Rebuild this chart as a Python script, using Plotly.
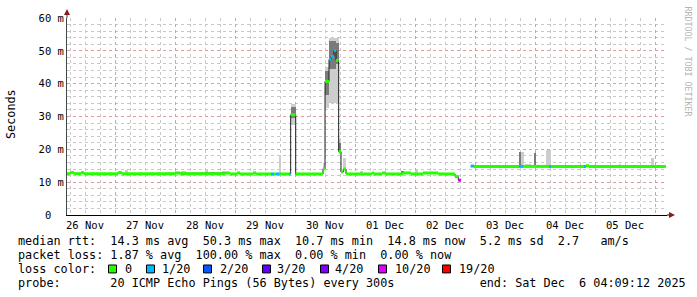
import plotly.graph_objects as go
import pandas as pd

# ---------------- data ----------------
seg_start = [
    "2025-11-26 04:48", "2025-11-26 06:00", "2025-11-26 07:36", "2025-11-26 10:24",
    "2025-11-26 11:36", "2025-11-27 01:12", "2025-11-27 02:48", "2025-11-28 00:00",
    "2025-11-28 02:00", "2025-11-28 20:00", "2025-11-28 22:00", "2025-11-29 00:48",
    "2025-11-29 02:00", "2025-11-29 07:12", "2025-11-29 08:24", "2025-11-29 14:24",
    "2025-11-29 15:36", "2025-11-29 16:24", "2025-11-29 17:36", "2025-11-29 21:36",
    "2025-11-29 22:16", "2025-11-30 00:17", "2025-11-30 11:12", "2025-11-30 12:00",
    "2025-11-30 13:36", "2025-11-30 14:24", "2025-11-30 15:36", "2025-11-30 16:24",
    "2025-11-30 17:28", "2025-11-30 18:24", "2025-11-30 19:19", "2025-11-30 20:24",
    "2025-12-01 06:48", "2025-12-01 07:36", "2025-12-01 10:48", "2025-12-01 12:24",
    "2025-12-01 19:12", "2025-12-01 22:24", "2025-12-02 03:12", "2025-12-02 09:12",
    "2025-12-02 16:00", "2025-12-02 17:19", "2025-12-02 18:24", "2025-12-02 22:17",
    "2025-12-02 23:36", "2025-12-03 17:36", "2025-12-03 19:12", "2025-12-04 05:36",
    "2025-12-04 06:24", "2025-12-04 19:36", "2025-12-04 20:24", "2025-12-04 21:36",
]
seg_last_end = "2025-12-06 04:17"
median_ms = [
    12.6, 12.9, 12.6, 12.9,
    12.6, 12.9, 12.6, 12.8,
    12.6, 12.8, 12.5, 12.8,
    12.5, 12.8, 12.5, 12.5,
    12.5, 12.5, 12.5, 12.5,
    30.5, 12.5, 14.1, 40.7,
    47.4, 48.3, 50.1, 47.1,
    19.3, 13.1, 14.0, 12.5,
    12.8, 12.5, 12.8, 12.5,
    12.8, 12.5, 12.8, 12.5,
    11.7, 10.6, None, 14.9,
    14.8, 14.8, 14.8, 14.8,
    14.8, 14.8, 15.0, 14.8,
]
loss_idx = [
    0, 0, 0, 0,
    0, 0, 0, 0,
    0, 0, 0, 0,
    0, 0, 0, 1,
    0, 1, 0, 1,
    0, 0, 0, 0,
    1, 1, 1, 0,
    0, 0, 0, 0,
    0, 0, 0, 0,
    0, 0, 0, 0,
    0, 5, 0, 1,
    0, 1, 0, 1,
    0, 1, 0, 0,
]

smoke_start = ["2025-11-27 04:00", "2025-11-28 02:24", "2025-11-28 12:00", "2025-11-28 18:48",
               "2025-11-29 17:36", "2025-11-29 22:16", "2025-11-30 11:12", "2025-11-30 12:00",
               "2025-11-30 13:36", "2025-11-30 16:24", "2025-11-30 17:28", "2025-11-30 19:19",
               "2025-12-01 02:00", "2025-12-02 00:00", "2025-12-03 17:36", "2025-12-03 20:00",
               "2025-12-04 04:24", "2025-12-05 09:36", "2025-12-05 22:17"]
smoke_end = ["2025-11-27 05:12", "2025-11-28 04:24", "2025-11-28 13:12", "2025-11-28 20:00",
             "2025-11-29 18:24", "2025-11-30 00:17", "2025-11-30 12:00", "2025-11-30 13:36",
             "2025-11-30 16:24", "2025-11-30 17:28", "2025-11-30 18:24", "2025-11-30 20:24",
             "2025-12-01 03:12", "2025-12-02 01:12", "2025-12-03 19:36", "2025-12-03 22:24",
             "2025-12-04 06:24", "2025-12-05 10:24", "2025-12-05 23:36"]
smoke_lo = [12.6, 12.6, 12.6, 12.6, 12.6, 27.4, 14.1, 32.6, 34.0, 33.7, 18.5, 13.5,
            12.5, 12.5, 14.8, 14.8, 14.8, 14.8, 14.8]
smoke_hi = [13.8, 13.5, 14.1, 13.4, 18.2, 33.8, 15.7, 45.2, 53.8, 53.8, 23.0, 17.3,
            13.3, 13.6, 19.1, 15.4, 19.8, 15.4, 17.3]

core_start = ["2025-11-29 22:16", "2025-11-30 12:00", "2025-11-30 13:36", "2025-11-30 16:24",
              "2025-11-30 17:28", "2025-12-01 18:24", "2025-12-03 17:36", "2025-12-03 23:29"]
core_end = ["2025-11-30 00:17", "2025-11-30 13:36", "2025-11-30 16:24", "2025-11-30 17:28",
            "2025-11-30 18:24", "2025-12-01 19:36", "2025-12-03 18:24", "2025-12-04 00:24"]
core_lo = [29.5, 36.5, 44.5, 46.0, 19.5, 12.5, 14.8, 14.8]
core_hi = [32.8, 44.0, 53.0, 52.5, 22.0, 13.5, 19.1, 18.8]

loss_labels = ["0", "1/20", "2/20", "3/20", "4/20", "10/20", "19/20"]
loss_colors = ["#26ff00", "#00b8ff", "#0059ff", "#5e00ff", "#7e00ff", "#dd00ff", "#ff0000"]

y_ticks = [0, 10, 20, 30, 40, 50, 60]
y_ticktext = ["0\u00a0\u00a0", "10 m", "20 m", "30 m", "40 m", "50 m", "60 m"]

x_range = ["2025-11-26 04:48", "2025-12-06 04:48"]

W, H = 697, 297
L, R, T, B = 67, 667, 16, 215


def px(x, y):
    return (x - L) / (R - L), (B - y) / (B - T)


MONO = "DejaVu Sans Mono"

fig = go.Figure()


def add_smoke(starts, ends, lo, hi, color):
    s = pd.to_datetime(starts)
    e = pd.to_datetime(ends)
    mid = [(a + (b - a) / 2).strftime("%Y-%m-%d %H:%M:%S") for a, b in zip(s, e)]
    width = [(b - a).total_seconds() * 1000 for a, b in zip(s, e)]
    fig.add_trace(go.Bar(x=mid, y=[h - l for l, h in zip(lo, hi)], base=lo, width=width,
                         marker=dict(color=color, line=dict(width=0)),
                         showlegend=False, hoverinfo="skip"))


add_smoke(smoke_start, smoke_end, smoke_lo, smoke_hi, "#cdcdcd")
add_smoke(core_start, core_end, core_lo, core_hi, "#7a7a7a")

starts = list(seg_start)
ends = starts[1:] + [seg_last_end]
bx, by = [], []
for s, e, v in zip(starts, ends, median_ms):
    if v is None:
        bx.append(None); by.append(None)
        continue
    bx += [s, e]; by += [v, v]
fig.add_trace(go.Scatter(x=bx, y=by, mode="lines", line=dict(color="#202020", width=1),
                         showlegend=False, hoverinfo="skip"))

for li, col in enumerate(loss_colors):
    xs, ys = [], []
    for s, e, v, l in zip(starts, ends, median_ms, loss_idx):
        if v is None or l != li:
            continue
        xs += [s, e, None]; ys += [v, v, None]
    if xs:
        fig.add_trace(go.Scatter(x=xs, y=ys, mode="lines", line=dict(color=col, width=3),
                                 showlegend=False, hoverinfo="skip"))

GRID_MAJOR = "#e39a9a"
GRID_MINOR = "#c8c8c8"

fig.update_layout(
    width=W, height=H,
    margin=dict(l=L, r=W - R, t=T, b=H - B, pad=0),
    paper_bgcolor="white", plot_bgcolor="white",
    barmode="overlay", bargap=0,
    showlegend=False,
    xaxis=dict(type="date", range=x_range, tick0="2025-11-27", dtick=86400000,
               tickformat="%d %b", ticklabelmode="period",
               ticks="", showgrid=True, gridcolor=GRID_MAJOR, griddash="dot", gridwidth=1,
               minor=dict(dtick=6 * 3600000, tick0="2025-11-27", showgrid=True,
                          gridcolor=GRID_MINOR, griddash="dot", gridwidth=1),
               tickfont=dict(family=MONO, size=10.5, color="#000000"),
               showline=True, linecolor="#000000", linewidth=1, zeroline=False, fixedrange=True),
    yaxis=dict(range=[0, 60], tickmode="array", tickvals=y_ticks, ticktext=y_ticktext,
               ticks="", showgrid=True, gridcolor=GRID_MAJOR, griddash="dot", gridwidth=1,
               minor=dict(dtick=2, tick0=0, showgrid=True, gridcolor=GRID_MINOR,
                          griddash="dot", gridwidth=1),
               showline=True, linecolor="#404848", linewidth=1, zeroline=False,
               tickfont=dict(family=MONO, size=10.5, color="#000000"), fixedrange=True),
)

shapes = []
ARROW = "#8b1a1a"
x0, y0 = px(67, 16); x1, y1 = px(67, 12)
shapes.append(dict(type="line", xref="paper", yref="paper", x0=x0, y0=y0, x1=x1, y1=y1,
                   line=dict(color="#404848", width=1)))
a = [px(64, 13), px(70, 13), px(67, 7)]
shapes.append(dict(type="path", xref="paper", yref="paper",
                   path="M{},{} L{},{} L{},{} Z".format(a[0][0], a[0][1], a[1][0], a[1][1], a[2][0], a[2][1]),
                   fillcolor=ARROW, line=dict(color=ARROW, width=0)))
x0, y0 = px(667, 215); x1, y1 = px(669, 215)
shapes.append(dict(type="line", xref="paper", yref="paper", x0=x0, y0=y0, x1=x1, y1=y1,
                   line=dict(color="#000000", width=1)))
a = [px(669, 212), px(669, 218), px(675, 215)]
shapes.append(dict(type="path", xref="paper", yref="paper",
                   path="M{},{} L{},{} L{},{} Z".format(a[0][0], a[0][1], a[1][0], a[1][1], a[2][0], a[2][1]),
                   fillcolor=ARROW, line=dict(color=ARROW, width=0)))

sq_x = [108, 146, 203, 262, 320, 378, 442]
for xs_, col in zip(sq_x, loss_colors):
    ax0, ay0 = px(xs_ + 0.5, 273.5)
    ax1, ay1 = px(xs_ + 8.5, 265.5)
    shapes.append(dict(type="rect", xref="paper", yref="paper", x0=ax0, y0=ay0, x1=ax1, y1=ay1,
                       fillcolor=col, line=dict(color="#000000", width=1)))
fig.update_layout(shapes=shapes)

NB = "\u00a0"
FS = 11.8
annots = []


def text(x, y, s, size=FS, color="#000000", angle=0, xanchor="left"):
    X, Y = px(x, y)
    annots.append(dict(xref="paper", yref="paper", x=X, y=Y, text=s.replace(" ", NB),
                       showarrow=False, xanchor=xanchor, yanchor="middle", textangle=angle,
                       font=dict(family=MONO, size=size, color=color)))


row1 = "median rtt:  14.3 ms avg  50.3 ms max  10.7 ms min  14.8 ms now  5.2 ms sd  2.7   am/s"
row2 = "packet loss: 1.87 % avg  100.00 % max  0.00 % min  0.00 % now"
row4 = "probe:       20 ICMP Echo Pings (56 Bytes) every 300s            end: Sat Dec  6 04:09:12 2025"
text(16, 241.5, row1)
text(16, 255.5, row2)
text(16, 269.5, "loss color:")
lab_x = [123, 160, 218, 275, 333, 392.5, 456.5]
for lx, lab in zip(lab_x, loss_labels):
    text(lx, 269.5, lab)
text(16, 283.5, row4)
text(11, 113, "Seconds", angle=-90, xanchor="center")
text(688, 60, "RRDTOOL / TOBI OETIKER", size=8.3, color="#b4b4b4", angle=90, xanchor="center")
fig.update_layout(annotations=annots)

fig.write_html("out.html")
